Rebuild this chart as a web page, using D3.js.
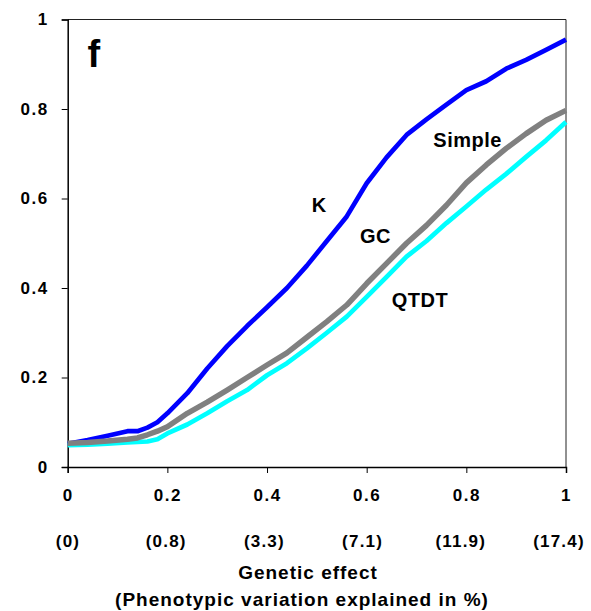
<!DOCTYPE html>
<html>
<head>
<meta charset="utf-8">
<script src="https://cdn.jsdelivr.net/npm/d3@7"></script>
<style>
  body { margin: 0; background: #fff; }
  svg { display: block; font-family: "Liberation Sans", Arial, sans-serif; font-weight: bold; }
</style>
</head>
<body>
<svg id="chart"></svg>
<script>
// genetic effect (x) for every point
const effect = [0, 0.04, 0.08, 0.12, 0.14, 0.16, 0.18, 0.2, 0.24, 0.28, 0.32, 0.36, 0.4, 0.44,
  0.48, 0.52, 0.56, 0.6, 0.64, 0.68, 0.72, 0.76, 0.8, 0.84, 0.88, 0.92, 0.96, 1];

const kPower = [0.052, 0.06, 0.07, 0.08, 0.08, 0.088, 0.1, 0.12, 0.165, 0.22, 0.27, 0.315, 0.357, 0.4,
  0.45, 0.505, 0.56, 0.634, 0.692, 0.742, 0.777, 0.81, 0.842, 0.862, 0.89, 0.91, 0.932, 0.955];
const gcPower = [0.053, 0.055, 0.058, 0.062, 0.065, 0.072, 0.08, 0.09, 0.12, 0.145, 0.172, 0.2, 0.228, 0.255,
  0.29, 0.325, 0.362, 0.41, 0.455, 0.5, 0.54, 0.585, 0.635, 0.675, 0.712, 0.745, 0.775, 0.797];
const qtdtPower = [0.049, 0.05, 0.052, 0.055, 0.056, 0.057, 0.062, 0.075, 0.095, 0.12, 0.147, 0.172, 0.205, 0.232,
  0.265, 0.3, 0.336, 0.38, 0.425, 0.47, 0.505, 0.545, 0.582, 0.62, 0.655, 0.693, 0.73, 0.771];

const yTicks = [0, 0.2, 0.4, 0.6, 0.8, 1];
const xTicks = [0, 0.2, 0.4, 0.6, 0.8, 1];
const pctLabels = ["(0)", "(0.8)", "(3.3)", "(7.1)", "(11.9)", "(17.4)"];

const W = 591, H = 611;
const plot = { left: 67.7, right: 566, top: 19.5, bottom: 467 };

const svg = d3.select("#chart").attr("width", W).attr("height", H);

const x = d3.scaleLinear().domain([0, 1]).range([plot.left, plot.right]);
const y = d3.scaleLinear().domain([0, 1]).range([plot.bottom, plot.top]);
// the % row sits a little tighter than the axis itself
const xPct = d3.scaleLinear().domain([0, 1]).range([68, 559]);

// frame top/right
svg.append("path")
  .attr("d", `M${plot.left},${plot.top}H${plot.right}V${plot.bottom}`)
  .attr("fill", "none").attr("stroke", "#222").attr("stroke-width", 1);

// y axis
const yAxis = svg.append("g")
  .attr("transform", `translate(${plot.left},0)`)
  .call(d3.axisLeft(y).tickValues(yTicks).tickFormat(d => String(d)).tickSize(6).tickPadding(13));
yAxis.select(".domain").attr("stroke-width", 1.5);
yAxis.selectAll("text").attr("font-size", 17).attr("letter-spacing", 1.5)
  .attr("font-family", "Liberation Sans, Arial, sans-serif").attr("font-weight", "bold").attr("fill", "#000");

// x axis
const xAxis = svg.append("g")
  .attr("transform", `translate(0,${plot.bottom})`)
  .call(d3.axisBottom(x).tickValues(xTicks).tickFormat(d => String(d)).tickSize(6).tickPadding(16));
xAxis.select(".domain").attr("stroke-width", 1.5);
xAxis.selectAll("text").attr("font-size", 17).attr("letter-spacing", 1.5)
  .attr("font-family", "Liberation Sans, Arial, sans-serif").attr("font-weight", "bold").attr("fill", "#000");

// second row: % variation explained
svg.append("g").selectAll("text")
  .data(xTicks)
  .join("text")
  .attr("x", d => xPct(d))
  .attr("y", 547)
  .attr("text-anchor", "middle")
  .attr("font-size", 17)
  .attr("letter-spacing", 1.2)
  .text((d, i) => pctLabels[i]);

// axis title
svg.append("text").attr("x", 308).attr("y", 579).attr("text-anchor", "middle")
  .attr("font-size", 19).attr("letter-spacing", 1).text("Genetic effect");
svg.append("text").attr("x", 302).attr("y", 606).attr("text-anchor", "middle")
  .attr("font-size", 19).attr("letter-spacing", 1).text("(Phenotypic variation explained in %)");

// lines
const line = d3.line().x((d, i) => x(effect[i])).y(d => y(d));
const series = [
  { vals: kPower, color: "#0000ff", w: 4.7 },
  { vals: qtdtPower, color: "#00ffff", w: 4.7 },
  { vals: gcPower, color: "#808080", w: 5.5 },
];
svg.append("g").selectAll("path")
  .data(series)
  .join("path")
  .attr("d", d => line(d.vals))
  .attr("fill", "none")
  .attr("stroke", d => d.color)
  .attr("stroke-width", d => d.w)
  .attr("stroke-linejoin", "round");

// labels
const labels = [
  { t: "K", x: 311.7, y: 211.7 },
  { t: "GC", x: 360, y: 243.3 },
  { t: "QTDT", x: 391.7, y: 306.7 },
  { t: "Simple", x: 433.3, y: 146.7 },
];
svg.append("g").selectAll("text")
  .data(labels)
  .join("text")
  .attr("x", d => d.x).attr("y", d => d.y)
  .attr("font-size", 20).attr("letter-spacing", 0.5)
  .text(d => d.t);

svg.append("text").attr("x", 87.5).attr("y", 67).attr("font-size", 38).text("f");
</script>
</body>
</html>
